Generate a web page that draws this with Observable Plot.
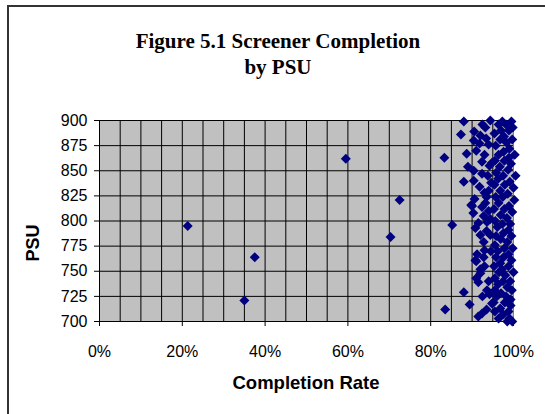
<!DOCTYPE html>
<html>
<head>
<meta charset="utf-8">
<script src="https://cdn.jsdelivr.net/npm/d3@7"></script>
<script src="https://cdn.jsdelivr.net/npm/@observablehq/plot@0.6"></script>
<style>
  html, body { margin: 0; padding: 0; background: #fff; overflow: hidden; }
  #wrap { position: relative; width: 545px; height: 414px; }
  #frame { position: absolute; left: 7px; top: 5px; width: 560px; height: 430px; border: 2px solid #333; box-sizing: border-box; }
  .title { position: absolute; left: 0; width: 556px; text-align: center; font-family: "Liberation Serif", "Times New Roman", serif; font-weight: bold; font-size: 21px; line-height: 24px; color: #000; }
  #ylab { position: absolute; left: 33px; top: 243px; transform: translate(-50%, -50%) rotate(-90deg); font-family: "Liberation Sans", Arial, sans-serif; font-weight: bold; font-size: 18px; }
  #xlab { position: absolute; left: 306px; top: 383px; transform: translate(-50%, -50%); font-family: "Liberation Sans", Arial, sans-serif; font-weight: bold; font-size: 18.5px; white-space: nowrap; }
  #chart { position: absolute; left: 0; top: 0; }
</style>
</head>
<body>
<div id="wrap">
  <div id="frame"></div>
  <div id="chart"></div>
  <div class="title" style="top:29px">Figure 5.1 Screener Completion</div>
  <div class="title" style="top:55px">by PSU</div>
  <div id="ylab">PSU</div>
  <div id="xlab">Completion Rate</div>
</div>
<script>
// Completion rate (percent) and PSU for each point
const ratePct = [
  21.3, 37.5, 35.0, 59.5, 72.5, 70.3, 83.3, 85.2, 83.5, 88.0, 89.4, 88.0, 87.3, 88.7, 89.0, 88.0,
  90.4, 91.8, 92.0, 93.2, 94.4, 92.4, 94.2, 90.4, 92.4, 90.4, 91.8, 93.5, 90.6, 90.0, 89.8, 92.4,
  90.3, 92.8, 94.4, 90.8, 92.0, 94.4, 92.8, 91.2, 90.8, 92.8, 92.0, 91.5, 93.6, 92.4, 94.8, 91.0,
  92.0, 93.0, 91.5, 93.0, 91.0, 93.0, 94.0, 90.5, 92.5, 91.0, 92.5, 93.5, 91.5, 94.0, 93.5, 94.0,
  93.8, 94.0, 93.0, 94.5, 93.2, 94.6, 93.4, 94.2, 93.6, 94.8,
  98.5, 99.7, 96.4, 99.0, 97.5, 95.5, 98.8, 96.8, 99.3, 95.2, 97.9, 99.3, 96.0, 98.2, 97.0, 95.5,
  99.6, 98.5, 96.3, 97.5, 99.2, 95.5, 98.0, 100.0, 96.5, 97.2, 95.3, 98.8, 96.8, 99.5, 95.8, 97.6,
  98.8, 96.2, 97.8, 99.8, 95.5, 98.5, 96.9, 99.5, 95.8, 97.6, 98.8, 96.1, 99.2, 97.3, 95.6, 98.4,
  96.9, 99.7, 95.3, 97.8, 98.9, 96.4, 100.2, 97.4, 95.7, 98.6, 96.8, 100.0, 95.4, 97.9, 99.1, 96.3,
  100.5, 97.5, 95.8, 98.7, 96.7, 99.4, 97.8, 95.5, 98.9, 100.3, 96.4, 97.6, 99.0, 95.7, 98.3, 96.8,
  99.7, 97.7, 95.4, 98.9, 97.0, 99.8, 96.4, 98.2, 97.3, 99.5
];
const psu = [
  795, 764, 721, 862, 821, 784, 863, 796, 712, 729, 717, 899, 886, 867, 854, 839,
  880, 877, 885, 893, 900, 859, 855, 850, 847, 840, 834, 824, 822, 815, 816, 814,
  808, 805, 802, 793, 786, 786, 779, 767, 761, 764, 748, 739, 731, 708, 718, 743,
  752, 771, 798, 828, 870, 866, 876, 889, 896, 760, 725, 712, 705, 740, 790, 810,
  845, 830, 755, 770, 818, 838, 882, 727, 799, 858,
  700, 700, 703, 703, 707, 710, 710, 713, 716, 719, 719, 722, 725, 725, 728, 731,
  731, 734, 737, 740, 740, 743, 746, 749, 749, 752, 755, 755, 758, 761, 764, 764,
  767, 770, 773, 773, 776, 779, 782, 785, 785, 788, 791, 794, 797, 797, 800, 803,
  806, 809, 812, 812, 815, 818, 821, 824, 824, 827, 830, 833, 836, 836, 839, 842,
  845, 845, 848, 851, 854, 857, 860, 860, 863, 866, 866, 869, 872, 875, 878, 881,
  881, 884, 887, 890, 890, 893, 896, 896, 899, 899
];
const xTicks = [0, 0.2, 0.4, 0.6, 0.8, 1.0];
const yTicks = [700, 725, 750, 775, 800, 825, 850, 875, 900];
const xGrid = [0, 0.05, 0.1, 0.15, 0.2, 0.25, 0.3, 0.35, 0.4, 0.45, 0.5, 0.55, 0.6, 0.65, 0.7, 0.75, 0.8, 0.85, 0.9, 0.95];

const points = ratePct.map((r, i) => ({rate: r / 100, psu: psu[i]}));

const chart = Plot.plot({
  width: 545,
  height: 414,
  marginLeft: 99,
  marginRight: 32,
  marginTop: 120,
  marginBottom: 93,
  style: {fontFamily: '"Liberation Sans", Arial, sans-serif', fontSize: "16px", color: "#000", background: "transparent"},
  x: {domain: [0, 1], ticks: xTicks, tickFormat: d => Math.round(d * 100) + "%", tickSize: 5, tickPadding: 19, label: null},
  y: {domain: [700, 900], ticks: yTicks, tickSize: 5, tickPadding: 7, label: null},
  marks: [
    Plot.frame({fill: "#c0c0c0", stroke: "#808080"}),
    Plot.ruleX(xGrid, {stroke: "#000", strokeWidth: 1}),
    Plot.ruleY(yTicks, {stroke: "#000", strokeWidth: 1}),
    Plot.dot(points, {x: "rate", y: "psu", symbol: "diamond2", r: 4.5, fill: "#000080", stroke: "none"})
  ]
});
document.getElementById("chart").appendChild(chart);
</script>
</body>
</html>
